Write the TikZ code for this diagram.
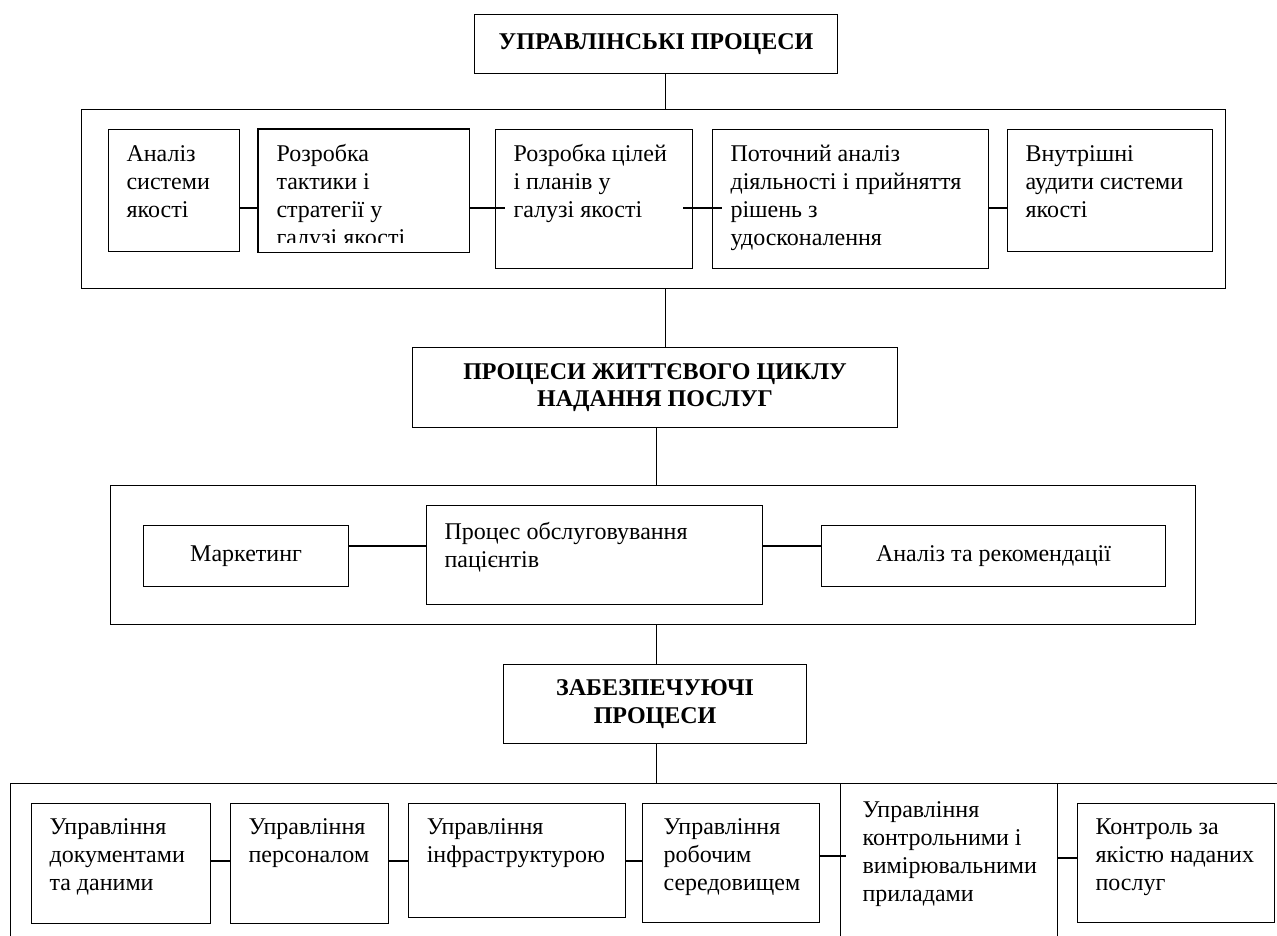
\documentclass[tikz,border=0pt]{standalone}
\usepackage{fontspec}
\setmainfont{Liberation Serif}
\usetikzlibrary{positioning}

\newcommand{\boxfont}{\fontsize{24}{28}\selectfont}
\newcommand{\headerfont}{\fontsize{24}{27.5}\selectfont\bfseries}
% text of a fixed-size box, set from its top
\newcommand{\celltext}[3]{\parbox[t][#2pt][t]{#1pt}{\hyphenpenalty=10000\strut #3}}

\begin{document}
\begin{tikzpicture}[
  x=1pt, y=-1pt,
  line width=1.1pt,
  frame/.style={draw, anchor=north west, inner sep=0pt},
  head/.style={draw, anchor=north west, inner sep=0pt, align=center, font=\headerfont},
  proc/.style={draw, anchor=north west, inner xsep=18pt, inner ysep=12.5pt, font=\boxfont},
  plain/.style={draw, anchor=north west, inner sep=0pt, font=\boxfont}
]
\useasboundingbox (0,0) rectangle (1277,935);

% Management processes
\node[head, minimum width=363pt, minimum height=59pt] (head1) at (474,14) {УПРАВЛІНСЬКІ ПРОЦЕСИ};
\node[frame, minimum width=1144pt, minimum height=179pt] (frame1) at (81,109) {};

\node[proc] (analiz) at (108,129) {\celltext{95}{97}{Аналіз\\системи\\якості}};
% last line of this box is cut off by its lower edge
\begin{scope}
  \clip (250,120) rectangle (480,242);
  \node[proc, draw=none] (taktyka) at (258,129) {\celltext{174}{97}{Розробка\\тактики і\\стратегії у\\галузі якості}};
\end{scope}
\draw (taktyka.south west) rectangle (taktyka.north east);
\node[proc] (cili) at (495,129) {\celltext{161}{114}{Розробка цілей\\і планів у\\галузі якості}};
\node[proc] (potoch) at (712,129) {\celltext{240}{114}{Поточний аналіз\\діяльності і прийняття\\рішень з\\удосконалення}};
\node[proc] (audyt) at (1007,129) {\celltext{169}{97}{Внутрішні\\аудити системи\\якості}};

\coordinate (row1) at (0,208);
\draw (analiz.east |- row1) -- (taktyka.west |- row1);
\draw (taktyka.east |- row1) -- ([xshift=10pt]cili.west |- row1);
\draw ([xshift=-10pt]cili.east |- row1) -- ([xshift=10pt]potoch.west |- row1);
\draw (potoch.east |- row1) -- (audyt.west |- row1);

% Life cycle processes
\node[head, minimum width=485pt, minimum height=80pt] (head2) at (412,347) {ПРОЦЕСИ ЖИТТЄВОГО ЦИКЛУ\\НАДАННЯ ПОСЛУГ};
\node[frame, minimum width=1085pt, minimum height=139pt] (frame2) at (110,485) {};

\node[plain, minimum width=205pt, minimum height=61pt] (market) at (143,525) {Маркетинг};
\node[proc, inner ysep=14.5pt] (service) at (426,505) {\celltext{300}{70}{Процес обслуговування\\пацієнтів}};
\node[plain, minimum width=344pt, minimum height=61pt] (advice) at (821,525) {Аналіз та рекомендації};

\coordinate (row2) at (0,546);
\draw (market.east |- row2) -- (service.west |- row2);
\draw (service.east |- row2) -- (advice.west |- row2);

% Supporting processes
\node[head, minimum width=303pt, minimum height=79pt] (head3) at (503,664) {ЗАБЕЗПЕЧУЮЧІ\\ПРОЦЕСИ};
\node[frame, minimum width=1300pt, minimum height=200pt] (frame3) at (10,783) {};

\node[proc, inner ysep=11pt] (docs) at (31,803) {\celltext{143}{98}{Управління\\документами\\та даними}};
\node[proc, inner ysep=11pt, right=19pt of docs.north east, anchor=north west] (staff) {\celltext{122}{98}{Управління\\персоналом}};
\node[proc, inner ysep=11pt, right=19pt of staff.north east, anchor=north west] (infra) {\celltext{181}{92}{Управління\\інфраструктурою}};
\node[proc, inner xsep=21pt, inner ysep=11pt] (envir) at (642,803) {\celltext{135}{97}{Управління\\робочим\\середовищем}};
\node[proc, inner xsep=22pt, inner ysep=14.5pt] (devices) at (840,783) {\celltext{173}{171}{Управління\\контрольними і\\вимірювальними\\приладами}};
\node[proc, inner ysep=11pt] (quality) at (1077,803) {\celltext{161}{97}{Контроль за\\якістю наданих\\послуг}};

\coordinate (row3) at (0,861);
\draw (docs.east |- row3) -- (staff.west |- row3);
\draw (staff.east |- row3) -- (infra.west |- row3);
\draw (infra.east |- row3) -- (envir.west |- row3);
\draw ([yshift=5pt]envir.east |- row3) -- ([xshift=6pt,yshift=5pt]devices.west |- row3);
\draw ([yshift=3pt]devices.east |- row3) -- ([yshift=3pt]quality.west |- row3);

% Links between the levels
\coordinate (spine1) at ([xshift=9.5pt]head1.south);
\coordinate (spine2) at ([xshift=1.5pt]head3.north);
\draw (spine1) -- (spine1 |- frame1.north);
\draw (spine1 |- frame1.south) -- (spine1 |- head2.north);
\draw (spine2 |- head2.south) -- (spine2 |- frame2.north);
\draw (spine2 |- frame2.south) -- (spine2 |- head3.north);
\draw (spine2 |- head3.south) -- (spine2 |- frame3.north);
\end{tikzpicture}
\end{document}
